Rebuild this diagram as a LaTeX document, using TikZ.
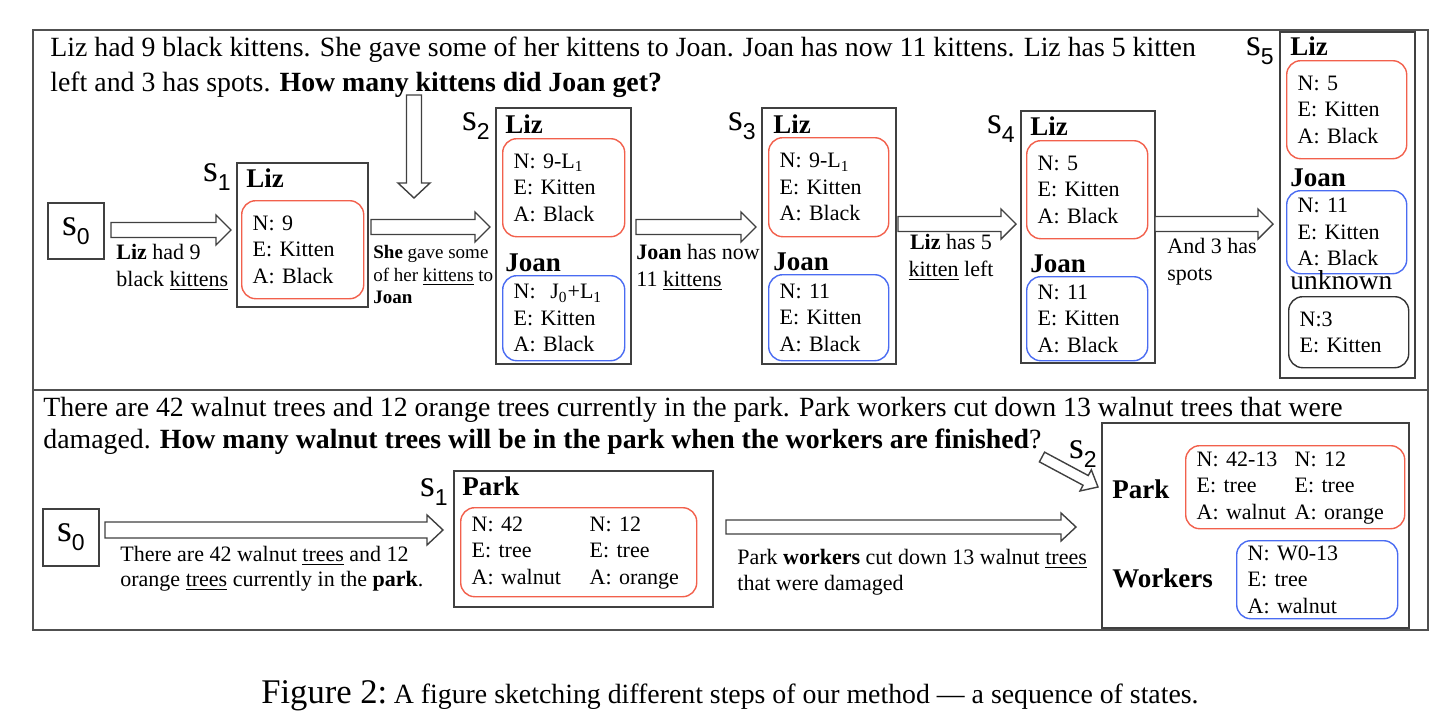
\documentclass[tikz,border=0pt]{standalone}
\usepackage{fontspec}
\setmainfont{Liberation Serif}
\newfontfamily\sublabelfont{Liberation Sans}
\usetikzlibrary{calc,shadows}
\definecolor{redb}{HTML}{F2604C}
\definecolor{blueb}{HTML}{4A6CF2}
\definecolor{framec}{HTML}{505050}
\newcommand\sv[1]{{\fontsize{19}{19}\selectfont s}\raisebox{-4.5pt}{\sublabelfont\fontsize{11.5}{11.5}\selectfont #1}}
% fat open arrow between two named coordinates: start, end, shaft half width, head half width, head length
\newcommand\fatarr[5]{%
  \coordinate (fa-h) at ($(#2)!#5!(#1)$);
  \draw[fatarrow] ($(#1)!#3!90:(#2)$) -- ($(fa-h)!#3!-90:(#1)$) -- ($(fa-h)!#4!-90:(#1)$) -- (#2)
     -- ($(fa-h)!#4!90:(#1)$) -- ($(fa-h)!#3!90:(#1)$) -- ($(#1)!#3!-90:(#2)$) -- cycle;}
\begin{document}
\begin{tikzpicture}[x=0.5pt,y=-0.5pt,
  fatarrow/.style={draw=black!75, line width=0.7pt, fill=white, line join=miter},
  framebox/.style={draw=framec, line width=0.8pt},
  stbox/.style={draw=black!75, line width=0.8pt, fill=white, anchor=north west, inner sep=0pt,
     drop shadow={opacity=0.2, shadow xshift=0.8pt, shadow yshift=-0.8pt}},
  slab/.style={anchor=north east, inner sep=0pt},
  hdr/.style={anchor=base west, inner sep=0pt, font=\bfseries\fontsize{13.5}{14}\selectfont},
  ibox/.style={anchor=north west, rounded corners=7pt, line width=0.7pt, align=left,
     inner xsep=5.5pt, inner ysep=0pt, font=\fontsize{11}{13.25}\selectfont},
  rbox/.style={ibox, draw=redb},
  bbox/.style={ibox, draw=blueb},
  kbox/.style={ibox, draw=black!80},
  para/.style={anchor=north west, align=left, inner sep=0pt},
  elab/.style={anchor=north west, align=left, inner sep=0pt, font=\fontsize{11}{13.5}\selectfont},
  elabs/.style={anchor=north west, align=left, inner sep=0pt, font=\fontsize{9.5}{11.25}\selectfont}
]
\useasboundingbox (0,0) rectangle (1453,723);
% frames
\draw[framebox] (33,30) rectangle (1428,630);
\draw[framebox] (33,390) -- (1428,390);

% ---------------- top problem ----------------
\node[para, font=\fontsize{13.9}{17.5}\selectfont] (q1) at (50,37)
  {Liz had 9 black kittens. She gave some of her kittens to Joan. Joan has now 11 kittens. Liz has 5 kitten\\
   left and 3 has spots. \textbf{How many kittens did Joan get?}};

% s0
\node[stbox, minimum width=28pt, minimum height=28pt] (t0) at (47,202) {\sv{0}};

% S1
\node[stbox, minimum width=65.5pt, minimum height=72pt] (t1) at (236,162) {};
\node[slab] (t1s) at ([xshift=-2.5pt,yshift=-0.5pt]t1.north west) {\sv{1}};
\node[hdr] (t1l) at (246,187) {Liz};
\node[rbox, minimum width=61pt, minimum height=49pt, text width=50pt] (t1r) at (241,200) {N: 9\\E: Kitten\\A: Black};

% S2
\node[stbox, minimum width=67.5pt, minimum height=128pt] (t2) at (495,107) {};
\node[slab] (t2s) at ([xshift=-2.5pt,yshift=-2.5pt]t2.north west) {\sv{2}};
\node[hdr] (t2l) at (505,133) {Liz};
\node[rbox, minimum width=61pt, minimum height=49pt, text width=50pt] (t2r) at (502,138) {N: 9-L\textsubscript{1}\\E: Kitten\\A: Black};
\node[hdr] (t2j) at (505,271) {Joan};
\node[bbox, minimum width=61pt, minimum height=42.5pt, text width=50pt] (t2b) at (502,275) {N:\ \ J\textsubscript{0}+L\textsubscript{1}\\E: Kitten\\A: Black};

% S3
\node[stbox, minimum width=67pt, minimum height=128pt] (t3) at (761,107) {};
\node[slab] (t3s) at ([xshift=-2.5pt,yshift=-2.5pt]t3.north west) {\sv{3}};
\node[hdr] (t3l) at (773,133) {Liz};
\node[rbox, minimum width=60pt, minimum height=49.5pt, text width=49pt] (t3r) at (768,137) {N: 9-L\textsubscript{1}\\E: Kitten\\A: Black};
\node[hdr] (t3j) at (773,270) {Joan};
\node[bbox, minimum width=60pt, minimum height=43pt, text width=49pt] (t3b) at (768,274) {N: 11\\E: Kitten\\A: Black};

% S4
\node[stbox, minimum width=67pt, minimum height=126pt] (t4) at (1020,110) {};
\node[slab] (t4s) at ([xshift=-2.5pt,yshift=-2.5pt]t4.north west) {\sv{4}};
\node[hdr] (t4l) at (1030,135) {Liz};
\node[rbox, minimum width=60.5pt, minimum height=49pt, text width=49.5pt] (t4r) at (1026,140) {N: 5\\E: Kitten\\A: Black};
\node[hdr] (t4j) at (1030,272) {Joan};
\node[bbox, minimum width=60.5pt, minimum height=42pt, text width=49.5pt] (t4b) at (1026,276) {N: 11\\E: Kitten\\A: Black};

% S5
\node[stbox, minimum width=67.5pt, minimum height=173pt] (t5) at (1279,31) {};
\node[slab] (t5s) at ([xshift=-2.5pt,yshift=-3pt]t5.north west) {\sv{5}};
\node[hdr] (t5l) at (1290,55) {Liz};
\node[rbox, minimum width=60pt, minimum height=49pt, text width=49pt] (t5r) at (1286,60) {N: 5\\E: Kitten\\A: Black};
\node[hdr] (t5j) at (1290,186) {Joan};
\node[bbox, minimum width=60pt, minimum height=41.5pt, text width=49pt] (t5b) at (1286,190) {N: 11\\E: Kitten\\A: Black};
\node[anchor=base west, inner sep=0pt, font=\fontsize{13.7}{14}\selectfont] (t5u) at (1290,289) {unknown};
\node[kbox, minimum width=60pt, minimum height=35.5pt, text width=49pt] (t5k) at (1288,296) {N:3\\E: Kitten};

% top arrows
\coordinate (qa) at (414,95);  \coordinate (qb) at (414,198);
\coordinate (a1a) at (111,230); \coordinate (a1b) at (231,230);
\coordinate (a2a) at (371,227); \coordinate (a2b) at (490,227);
\coordinate (a3a) at (636,227); \coordinate (a3b) at (756,227);
\coordinate (a4a) at (898,224); \coordinate (a4b) at (1016,224);
\coordinate (a5a) at (1155,224); \coordinate (a5b) at (1273,224);
\fatarr{qa}{qb}{3.75pt}{8pt}{7.5pt}
\fatarr{a1a}{a1b}{3.75pt}{7.5pt}{7.5pt}
\fatarr{a2a}{a2b}{3.75pt}{7.5pt}{7.5pt}
\fatarr{a3a}{a3b}{3.75pt}{7.5pt}{7.5pt}
\fatarr{a4a}{a4b}{3.75pt}{7.5pt}{7.5pt}
\fatarr{a5a}{a5b}{3.75pt}{7.5pt}{7.5pt}

% top edge labels
\node[elab] (l1) at (116,244) {\textbf{Liz} had 9\\black \underline{kittens}};
\node[elabs] (l2) at (373,245) {\textbf{She} gave some\\of her \underline{kittens} to\\\textbf{Joan}};
\node[elab] (l3) at (636,244) {\textbf{Joan} has now\\11 \underline{kittens}};
\node[elab, anchor=north, align=center] (l4) at (951,234) {\textbf{Liz} has 5\\\underline{kitten} left};
\node[elab] (l5) at (1167,238) {And 3 has\\spots};

% ---------------- bottom problem ----------------
\node[para, font=\fontsize{13.9}{16}\selectfont] (q2) at (43,397)
  {There are 42 walnut trees and 12 orange trees currently in the park. Park workers cut down 13 walnut trees that were\\
   damaged. \textbf{How many walnut trees will be in the park when the workers are finished}?};

\node[stbox, minimum width=28pt, minimum height=28.5pt] (b0) at (42,508) {\sv{0}};

\node[stbox, minimum width=129.5pt, minimum height=68pt] (b1) at (453,470) {};
\node[slab] (b1s) at ([xshift=-2.5pt,yshift=-4pt]b1.north west) {\sv{1}};
\node[hdr] (b1l) at (462,495) {Park};
\node[rbox, minimum width=118pt, minimum height=44.5pt, text width=107pt] (b1r) at (460,507)
  {\begin{tabular}{@{}p{59pt}@{}l@{}}N: 42 & N: 12\\E: tree & E: tree\\A: walnut & A: orange\end{tabular}};

\node[stbox, minimum width=153.5pt, minimum height=102.5pt] (b2) at (1101,422) {};
\node[slab] (b2s) at ([xshift=-2pt,yshift=-9pt]b2.north west) {\sv{2}};
\node[hdr] (b2l) at (1112,498) {Park};
\node[rbox, minimum width=109.5pt, minimum height=41.5pt, text width=98.5pt] (b2r) at (1185,445)
  {\begin{tabular}{@{}p{49pt}@{}l@{}}N: 42-13 & N: 12\\E: tree & E: tree\\A: walnut & A: orange\end{tabular}};
\node[hdr] (b2w) at (1112,587) {Workers};
\node[bbox, minimum width=80.5pt, minimum height=39pt, text width=69.5pt] (b2b) at (1236,540) {N: W0-13\\E: tree\\A: walnut};

% bottom arrows
\coordinate (c1a) at (105,530); \coordinate (c1b) at (443,530);
\coordinate (c2a) at (726,527); \coordinate (c2b) at (1076,527);
\coordinate (dqa) at (1042,457); \coordinate (dqb) at (1098,487);
\fatarr{c1a}{c1b}{4pt}{7.5pt}{8pt}
\fatarr{c2a}{c2b}{3.5pt}{7pt}{7.5pt}
\fatarr{dqa}{dqb}{2.75pt}{6pt}{7pt}

\node[elab, font=\fontsize{11}{12.5}\selectfont] (m1) at (120,546) {There are 42 walnut \underline{trees} and 12\\orange \underline{trees} currently in the \textbf{park}.};
\node[elab, font=\fontsize{11}{13}\selectfont] (m2) at (737,549) {Park \textbf{workers} cut down 13 walnut \underline{trees}\\that were damaged};

% caption
\node[anchor=base, inner sep=0pt] (cap) at (730,703)
  {{\fontsize{17.3}{18}\selectfont Figure 2:} {\fontsize{13.9}{15}\selectfont A figure sketching different steps of our method --- a sequence of states.}};
\end{tikzpicture}
\end{document}
